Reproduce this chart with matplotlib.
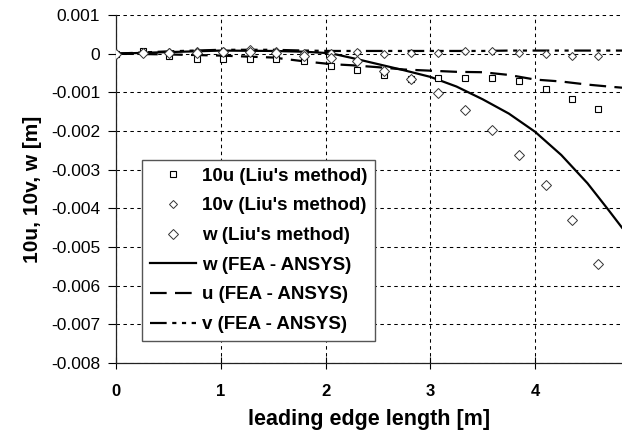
import matplotlib
matplotlib.use('Agg')
import matplotlib.pyplot as plt

plt.rcParams['font.family'] = ['Liberation Sans', 'DejaVu Sans']
plt.rcParams['lines.scale_dashes'] = False

# Liu's method sample points
x_liu = [0, 0.26, 0.51, 0.77, 1.02, 1.28, 1.53, 1.79, 2.05, 2.30,
         2.56, 2.82, 3.07, 3.33, 3.59, 3.85, 4.10, 4.35, 4.60]
u10_liu = [0, 0.00008, -0.00005, -0.00014, -0.00014, -0.00014, -0.00015, -0.00019, -0.00032, -0.00042,
           -0.00055, -0.00065, -0.00064, -0.00064, -0.00064, -0.0007, -0.00092, -0.00118, -0.00144]
v10_liu = [0, 0.00002, 0.00004, 0.00008, 0.00008, 0.00011, 0.00008, 0.00001, 0.00001, 0.00004,
           0, 0.00002, 0.00002, 0.00007, 0.00007, 0.00002, -0.00002, -0.00007, -0.00005]
w_liu = [0, 0.00002, 0.00001, 0.00003, 0.00004, 0.00005, 0.00003, -0.00006, -0.0001, -0.00019,
         -0.00045, -0.00065, -0.00102, -0.00146, -0.00198, -0.00262, -0.0034, -0.00431, -0.00545]

# FEA (ANSYS) curves
x_fea = [0, 0.5, 1.0, 1.5, 1.8, 2.05, 2.25, 2.5, 2.75, 3.0, 3.25, 3.5,
         3.75, 4.0, 4.25, 4.5, 4.7, 4.83]
w_fea = [0, 0.00004, 0.00008, 0.00007, 0.00005, 0.00001, -0.00011, -0.00027, -0.00043, -0.0006, -0.00085, -0.00118,
         -0.00155, -0.00202, -0.00262, -0.00335, -0.00404, -0.0045]
u_fea = [0, -0.00002, -0.00005, -0.0001, -0.0002, -0.00027, -0.0003, -0.00035, -0.00041, -0.00044, -0.00047, -0.00048,
         -0.00055, -0.00067, -0.00072, -0.0008, -0.00085, -0.00088]
v_fea = [0, 0.00006, 0.0001, 0.0001, 0.00008, 0.00007, 0.00007, 0.00007, 0.00007, 0.00007, 0.00007, 0.00007,
         0.00008, 0.00008, 0.00008, 0.00008, 0.00008, 0.00008]

yticks = [0.001, 0, -0.001, -0.002, -0.003, -0.004, -0.005, -0.006, -0.007, -0.008]
ytick_labels = ['0.001', '0', '-0.001', '-0.002', '-0.003', '-0.004', '-0.005', '-0.006', '-0.007', '-0.008']
xticks = [0, 1, 2, 3, 4]

fig = plt.figure(figsize=(6.22, 4.45), dpi=100)
ax = fig.add_axes([0.1865, 0.1843, 0.8135, 0.782])

ax.plot(x_liu, u10_liu, 's', ms=4.5, mfc='white', mec='black', mew=0.8,
        label="10u (Liu's method)", zorder=4)
ax.plot(x_liu, v10_liu, 'D', ms=4, mfc='white', mec='#333333', mew=0.7,
        label="10v (Liu's method)", zorder=4)
ax.plot(x_liu, w_liu, 'D', ms=4.8, mfc='white', mec='#333333', mew=0.7,
        label="w (Liu's method)", zorder=4)
ax.plot(x_fea, w_fea, '-', color='black', lw=1.6, label='w (FEA - ANSYS)', zorder=3)
ax.plot(x_fea, u_fea, color='black', lw=1.6, dashes=(12, 6),
        label='u (FEA - ANSYS)', zorder=3)
ax.plot(x_fea, v_fea, color='black', lw=1.6, dashes=(12, 4, 3, 4, 3, 4),
        label='v (FEA - ANSYS)', zorder=3)

ax.set_xlim(0, 4.83)
ax.set_ylim(-0.008, 0.001)
ax.set_xticks(xticks)
ax.set_xticklabels([str(t) for t in xticks], fontsize=12, fontweight='bold')
ax.set_yticks(yticks)
ax.set_yticklabels(ytick_labels, fontsize=12.5)

ax.grid(True, color='black', lw=0.75, linestyle=(0, (2.5, 2.5)))
ax.set_axisbelow(True)

for side in ['top', 'right']:
    ax.spines[side].set_visible(False)
for side in ['left', 'bottom']:
    ax.spines[side].set_linewidth(0.9)
    ax.spines[side].set_color('#222222')

ax.tick_params(axis='y', direction='out', length=5.5, width=0.8, pad=6)
ax.tick_params(axis='x', direction='inout', length=8, width=0.8, pad=11)

ax.set_xlabel('leading edge length [m]', fontsize=15.5, fontweight='bold', labelpad=7)
ax.set_ylabel('10u, 10v, w [m]', fontsize=15, fontweight='bold', labelpad=6)

leg = ax.legend(loc='upper left', bbox_to_anchor=(0.0514, 0.583), borderaxespad=0,
                fancybox=False, framealpha=1, edgecolor='#555555',
                prop={'size': 13.5, 'weight': 'bold'}, handlelength=2.5,
                handletextpad=0.3, labelspacing=0.67, borderpad=0.4)
leg.get_frame().set_linewidth(1.0)

fig.savefig('out.png', dpi=100)
